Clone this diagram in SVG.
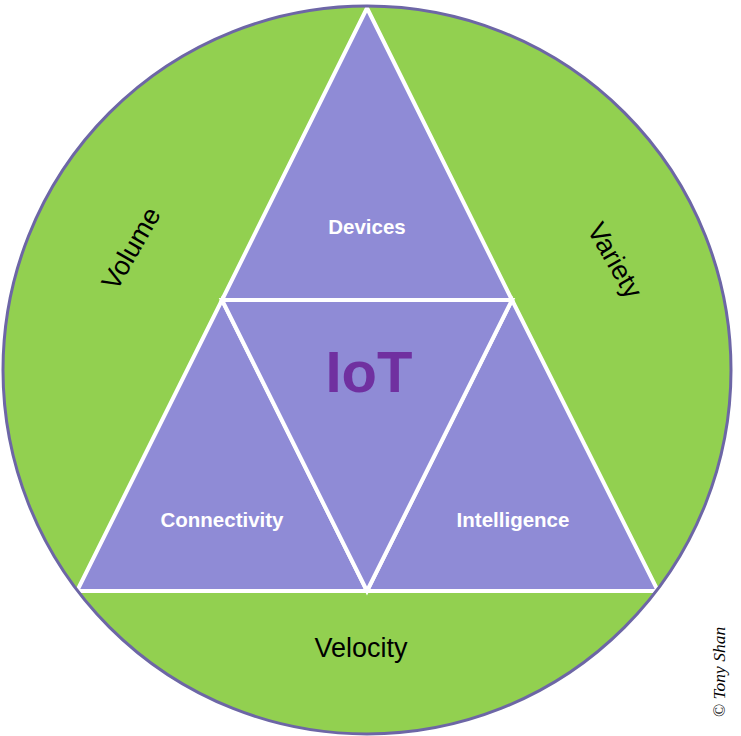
<svg xmlns="http://www.w3.org/2000/svg" width="741" height="736" viewBox="0 0 741 736">
  <style>
    .tri { fill: #8f8bd6; stroke: #ffffff; stroke-width: 4; stroke-linejoin: miter; }
    .lbl { font-family: "Liberation Sans", Arial, sans-serif; font-weight: bold; font-size: 20.5px; fill: #ffffff; text-anchor: middle; }
    .v { font-family: "Liberation Sans", Arial, sans-serif; font-size: 27px; fill: #000000; text-anchor: middle; }
  </style>
  <rect width="741" height="736" fill="#ffffff"/>
  <g id="circle">
    <circle cx="367" cy="370" r="364" fill="#92d050"/>
  </g>
  <g id="devices">
    <polygon class="tri" points="367,8 512,300 222,300"/>
    <text class="lbl" x="367" y="234">Devices</text>
  </g>
  <g id="connectivity">
    <polygon class="tri" points="222,300 367,591 77,591"/>
    <text class="lbl" x="222" y="527">Connectivity</text>
  </g>
  <g id="intelligence">
    <polygon class="tri" points="512,300 658,591 367,591"/>
    <text class="lbl" x="513" y="527">Intelligence</text>
  </g>
  <g id="iot">
    <polygon class="tri" points="222,300 512,300 367,591"/>
    <text x="369" y="392" font-family="Liberation Sans, Arial, sans-serif" font-weight="bold" font-size="58" fill="#7030a0" text-anchor="middle">IoT</text>
  </g>
  <g id="connectors">
    <line x1="50" y1="591" x2="690" y2="591" stroke="#ffffff" stroke-width="4"/>
  </g>
  <g id="rim">
    <circle cx="367" cy="370" r="364" fill="none" stroke="#6d66a6" stroke-width="3"/>
  </g>
  <g id="volume">
    <text class="v" transform="translate(139,253) rotate(-60)">Volume</text>
  </g>
  <g id="variety">
    <text class="v" transform="translate(607,265) rotate(60)">Variety</text>
  </g>
  <g id="velocity">
    <text class="v" x="361" y="657">Velocity</text>
  </g>
  <g id="copyright">
    <text transform="translate(725,672) rotate(-90)" font-family="Liberation Serif, Times New Roman, serif" font-style="italic" font-size="17.5" fill="#000000" text-anchor="middle">© Tony Shan</text>
  </g>
</svg>
